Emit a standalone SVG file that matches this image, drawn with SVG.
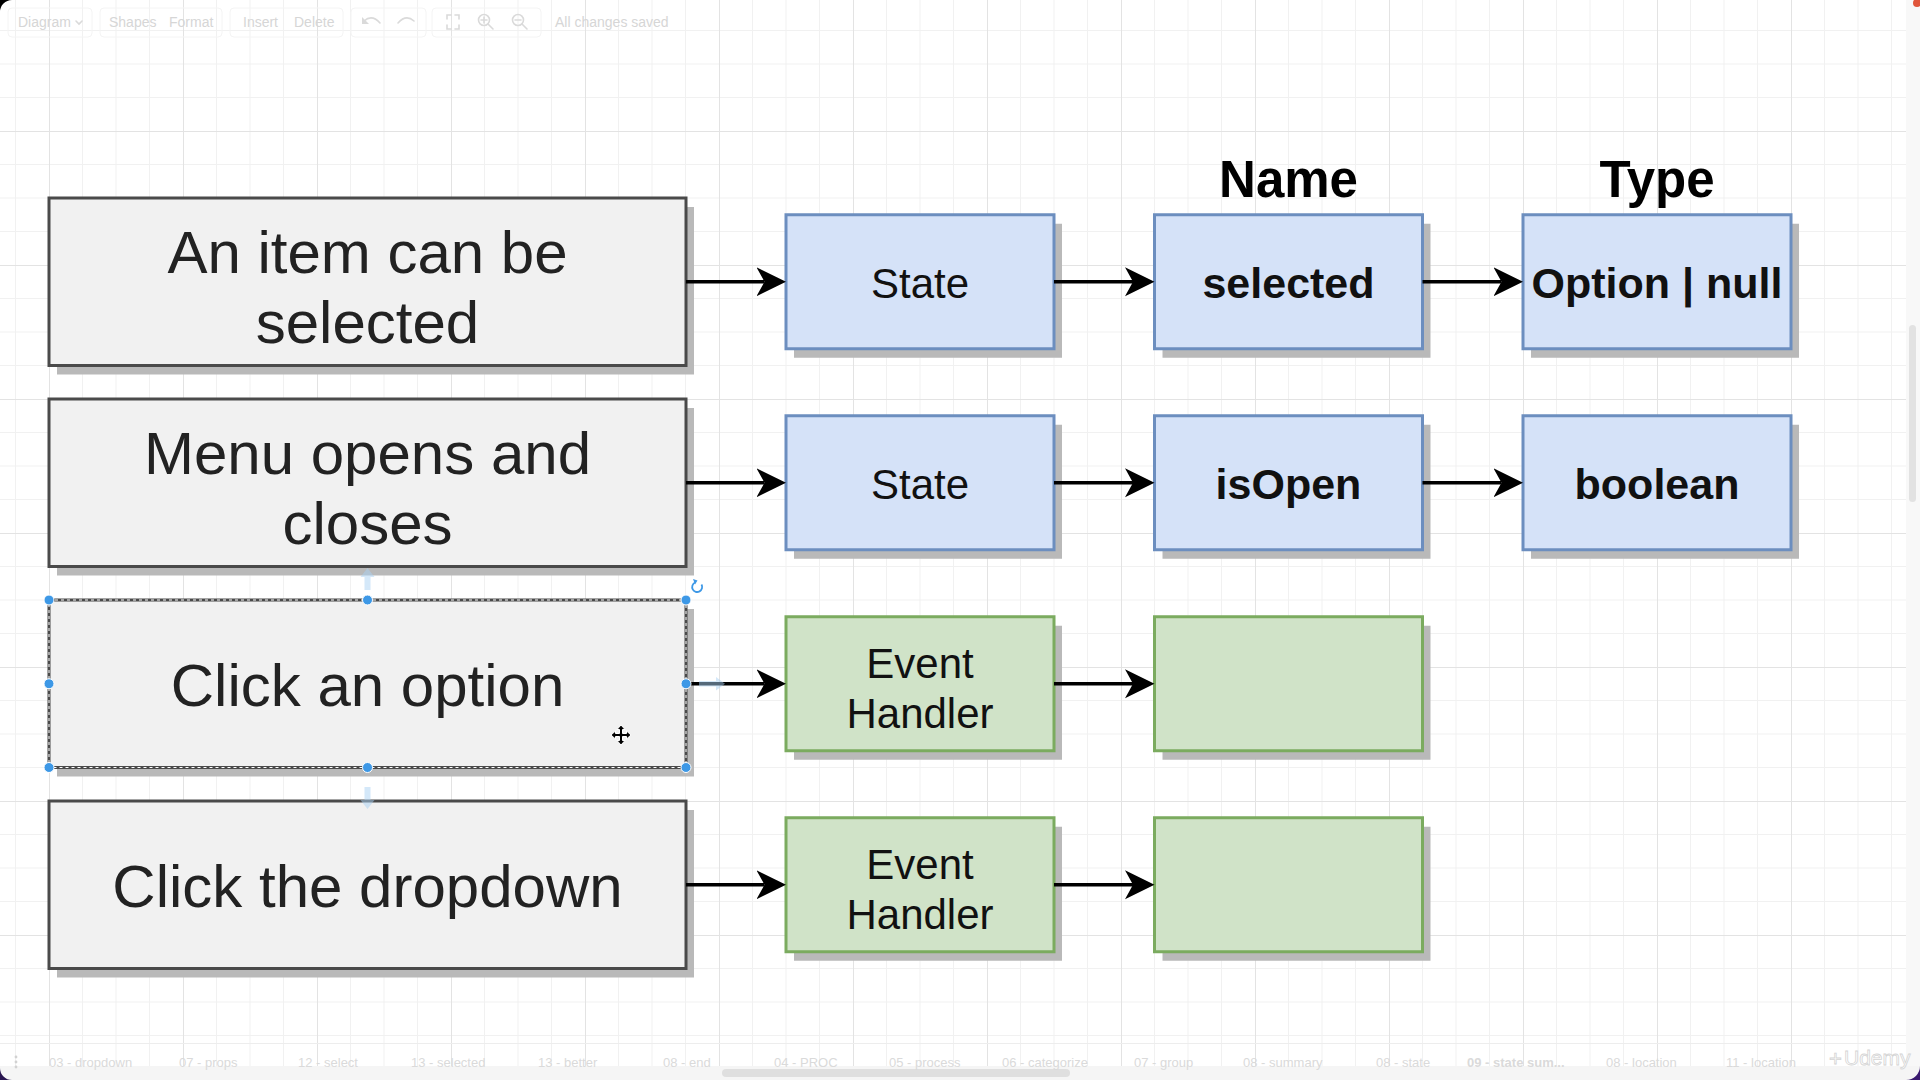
<svg xmlns="http://www.w3.org/2000/svg" width="1920" height="1080" viewBox="0 0 1920 1080">
<defs>
<style>
.shadow{fill:#b9b9b9}
.lbox{fill:#f1f1f1;stroke:#4a4a4a;stroke-width:3}
.blue{fill:#d5e2f8;stroke:#6c8ebf;stroke-width:3}
.green{fill:#d0e3c8;stroke:#7bab5f;stroke-width:3}
.ltxt{font-family:"Liberation Sans",Arial,Helvetica,sans-serif;font-size:60px;fill:#222;text-anchor:middle}
.ntxt{font-family:"Liberation Sans",Arial,Helvetica,sans-serif;font-size:42px;fill:#111;text-anchor:middle}
.bold{font-weight:bold;font-size:43px}
.hdr{font-family:"Liberation Sans",Arial,Helvetica,sans-serif;font-size:51px;font-weight:bold;fill:#000;text-anchor:middle}
.conn{stroke:#000;stroke-width:3.5;fill:none;marker-end:url(#arr)}
.ui{font-family:"Liberation Sans",Arial,Helvetica,sans-serif;font-size:14px;fill:#d6d6d6}
.tab{font-family:"Liberation Sans",Arial,Helvetica,sans-serif;font-size:13px;fill:#dadada}
.uiline{fill:none;stroke:#dadada;stroke-width:1.6;stroke-linecap:round}
.grp{fill:none;stroke:#f4f4f4;stroke-width:1}
.handle{fill:#3d98e6;stroke:#ffffff;stroke-width:1}
.hint{fill:#a9d2f3;opacity:0.5}
</style>
<pattern id="grid" patternUnits="userSpaceOnUse" x="49" y="131" width="134" height="134">
<rect width="134" height="134" fill="#ffffff"/>
<path d="M33.5,0V134M67,0V134M100.5,0V134M0,33.5H134M0,67H134M0,100.5H134" stroke="#f1f1f1" stroke-width="1" fill="none"/>
<path d="M0.5,0V134M0,0.5H134" stroke="#e3e3e3" stroke-width="1" fill="none"/>
</pattern>
<marker id="arr" markerUnits="userSpaceOnUse" markerWidth="30" markerHeight="30" viewBox="0 0 30 30" refX="8" refY="15" orient="auto">
<path d="M0,0.5 L29.5,15 L0,29.5 L8,15 Z" fill="#000"/>
</marker>
</defs>

<!-- background grid -->
<rect x="0" y="0" width="1920" height="1080" fill="url(#grid)"/>

<!-- toolbar -->
<g id="toolbar">
<rect class="grp" x="8" y="8" width="84" height="29" rx="4"/>
<rect class="grp" x="100" y="8" width="122" height="29" rx="4"/>
<rect class="grp" x="230" y="8" width="113" height="29" rx="4"/>
<rect class="grp" x="351" y="8" width="75" height="29" rx="4"/>
<rect class="grp" x="432" y="8" width="109" height="29" rx="4"/>
<text class="ui" x="18" y="27">Diagram</text>
<path class="uiline" d="M76,21 l3,3 l3,-3" stroke-width="1"/>
<text class="ui" x="109" y="27">Shapes</text>
<text class="ui" x="169" y="27">Format</text>
<text class="ui" x="243" y="27">Insert</text>
<text class="ui" x="294" y="27">Delete</text>
<path class="uiline" d="M364,21 q8,-7 16,2" stroke-width="2.2"/>
<path d="M362,17 l0,7 l7,0 z" fill="#dadada"/>
<path class="uiline" d="M398,23 q8,-9 16,-2" stroke="#ececec" stroke-width="2.2"/>
<path class="uiline" d="M447,19v-4h4M455,15h4v4M459,25v4h-4M451,29h-4v-4"/>
<circle class="uiline" cx="484" cy="20" r="5.5"/>
<path class="uiline" d="M488,24l5,5M481,20h6M484,17v6"/>
<circle class="uiline" cx="518" cy="20" r="5.5"/>
<path class="uiline" d="M522,24l5,5M515,20h6"/>
<text class="ui" x="555" y="27">All changes saved</text>
</g>

<!-- right scrollbar -->
<rect x="1906" y="0" width="14" height="1066" fill="#f8f8f8"/>
<rect x="1909" y="325" width="7" height="177" rx="3.5" fill="#e2e2e2"/>

<!-- nodes: left column -->
<g id="node-item-selected">
<rect class="shadow" x="57" y="207" width="637" height="167.5"/>
<rect class="lbox" x="49" y="198" width="637" height="167.5"/>
<text class="ltxt" x="367.5" y="272.5">An item can be</text>
<text class="ltxt" x="367.5" y="342.5">selected</text>
</g>
<g id="node-menu-opens">
<rect class="shadow" x="57" y="408" width="637" height="167.5"/>
<rect class="lbox" x="49" y="399" width="637" height="167.5"/>
<text class="ltxt" x="367.5" y="473.5">Menu opens and</text>
<text class="ltxt" x="367.5" y="543.5">closes</text>
</g>
<g id="node-click-option">
<rect class="shadow" x="57" y="609" width="637" height="167.5"/>
<rect class="lbox" x="49" y="600" width="637" height="167.5"/>
<rect x="49" y="600" width="637" height="167.5" fill="none" stroke="#ffffff" stroke-width="1" stroke-dasharray="3 3"/>
<text class="ltxt" x="367.5" y="705.5">Click an option</text>
</g>
<g id="node-click-dropdown">
<rect class="shadow" x="57" y="810" width="637" height="167.5"/>
<rect class="lbox" x="49" y="801" width="637" height="167.5"/>
<text class="ltxt" x="367.5" y="906.5">Click the dropdown</text>
</g>

<!-- headers -->
<g id="header-name"><text class="hdr" x="1288.5" y="197">Name</text></g>
<g id="header-type"><text class="hdr" x="1657" y="197">Type</text></g>

<!-- row 1 -->
<g id="node-state-1">
<rect class="shadow" x="794" y="223.75" width="268" height="134"/>
<rect class="blue" x="786" y="214.75" width="268" height="134"/>
<text class="ntxt" x="920" y="297.75">State</text>
</g>
<g id="node-selected">
<rect class="shadow" x="1162.5" y="223.75" width="268" height="134"/>
<rect class="blue" x="1154.5" y="214.75" width="268" height="134"/>
<text class="ntxt bold" x="1288.5" y="297.75">selected</text>
</g>
<g id="node-option-null">
<rect class="shadow" x="1531" y="223.75" width="268" height="134"/>
<rect class="blue" x="1523" y="214.75" width="268" height="134"/>
<text class="ntxt bold" x="1657" y="297.75">Option | null</text>
</g>

<!-- row 2 -->
<g id="node-state-2">
<rect class="shadow" x="794" y="424.75" width="268" height="134"/>
<rect class="blue" x="786" y="415.75" width="268" height="134"/>
<text class="ntxt" x="920" y="498.75">State</text>
</g>
<g id="node-isopen">
<rect class="shadow" x="1162.5" y="424.75" width="268" height="134"/>
<rect class="blue" x="1154.5" y="415.75" width="268" height="134"/>
<text class="ntxt bold" x="1288.5" y="498.75">isOpen</text>
</g>
<g id="node-boolean">
<rect class="shadow" x="1531" y="424.75" width="268" height="134"/>
<rect class="blue" x="1523" y="415.75" width="268" height="134"/>
<text class="ntxt bold" x="1657" y="498.75">boolean</text>
</g>

<!-- row 3 -->
<g id="node-event-handler-1">
<rect class="shadow" x="794" y="625.75" width="268" height="134"/>
<rect class="green" x="786" y="616.75" width="268" height="134"/>
<text class="ntxt" x="920" y="677.5">Event</text>
<text class="ntxt" x="920" y="727.5">Handler</text>
</g>
<g id="node-empty-1">
<rect class="shadow" x="1162.5" y="625.75" width="268" height="134"/>
<rect class="green" x="1154.5" y="616.75" width="268" height="134"/>
</g>

<!-- row 4 -->
<g id="node-event-handler-2">
<rect class="shadow" x="794" y="826.75" width="268" height="134"/>
<rect class="green" x="786" y="817.75" width="268" height="134"/>
<text class="ntxt" x="920" y="878.5">Event</text>
<text class="ntxt" x="920" y="928.5">Handler</text>
</g>
<g id="node-empty-2">
<rect class="shadow" x="1162.5" y="826.75" width="268" height="134"/>
<rect class="green" x="1154.5" y="817.75" width="268" height="134"/>
</g>

<!-- connectors -->
<g id="connectors">
<path class="conn" d="M686,281.75H764.5"/>
<path class="conn" d="M1054,281.75H1133"/>
<path class="conn" d="M1422.5,281.75H1501.5"/>
<path class="conn" d="M686,482.75H764.5"/>
<path class="conn" d="M1054,482.75H1133"/>
<path class="conn" d="M1422.5,482.75H1501.5"/>
<path class="conn" d="M686,683.75H764.5"/>
<path class="conn" d="M1054,683.75H1133"/>
<path class="conn" d="M686,884.75H764.5"/>
<path class="conn" d="M1054,884.75H1133"/>
</g>

<!-- selection decorations on "Click an option" -->
<g id="selection">
<path class="hint" d="M364.5,590 v-13 h-4 l7,-9 l7,9 h-4 v13 z"/>
<path class="hint" d="M364.5,787 v13 h-4 l7,9 l7,-9 h-4 v-13 z"/>
<path class="hint" d="M699,681 h17 v-4 l9,6.75 l-9,6.75 v-4 h-17 z"/>
<circle class="handle" cx="49" cy="600" r="5"/>
<circle class="handle" cx="367.5" cy="600" r="5"/>
<circle class="handle" cx="686" cy="600" r="5"/>
<circle class="handle" cx="49" cy="683.75" r="5"/>
<circle class="handle" cx="686" cy="683.75" r="5"/>
<circle class="handle" cx="49" cy="767.5" r="5"/>
<circle class="handle" cx="367.5" cy="767.5" r="5"/>
<circle class="handle" cx="686" cy="767.5" r="5"/>
<path d="M701.5,584.5 A5,5 0 1 1 695,582.5" fill="none" stroke="#3d98e6" stroke-width="1.8"/>
<path d="M693,579 l4.5,1.5 l-2.5,4 z" fill="#3d98e6"/>
<path d="M621,725 l4,4.5 h-2.5 v4 h4 v-2.5 l4.5,4 l-4.5,4 v-2.5 h-4 v4 h2.5 l-4,4.5 l-4,-4.5 h2.5 v-4 h-4 v2.5 l-4.5,-4 l4.5,-4 v2.5 h4 v-4 h-2.5 z" fill="#000" stroke="#ffffff" stroke-width="1"/>
</g>

<!-- bottom tab bar -->
<g id="tabbar">
<line x1="0" y1="1043.5" x2="1906" y2="1043.5" stroke="#ededed" stroke-width="1"/>
<rect x="0" y="1066" width="1920" height="14" fill="#f5f5f5"/>
<rect x="722" y="1069" width="348" height="8" rx="4" fill="#dfdfdf"/>
<circle cx="16" cy="1057" r="1.4" fill="#d2d2d2"/>
<circle cx="16" cy="1062" r="1.4" fill="#d2d2d2"/>
<circle cx="16" cy="1067" r="1.4" fill="#d2d2d2"/>
<text class="tab" x="49" y="1067">03 - dropdown</text>
<text class="tab" x="179" y="1067">07 - props</text>
<text class="tab" x="298" y="1067">12 - select</text>
<text class="tab" x="411" y="1067">13 - selected</text>
<text class="tab" x="538" y="1067">13 - better</text>
<text class="tab" x="663" y="1067">08 - end</text>
<text class="tab" x="774" y="1067">04 - PROC</text>
<text class="tab" x="889" y="1067">05 - process</text>
<text class="tab" x="1002" y="1067">06 - categorize</text>
<text class="tab" x="1134" y="1067">07 - group</text>
<text class="tab" x="1243" y="1067">08 - summary</text>
<text class="tab" x="1376" y="1067">08 - state</text>
<text class="tab" x="1467" y="1067" font-weight="bold" fill="#c9c9c9">09 - state sum...</text>
<text class="tab" x="1606" y="1067">08 - location</text>
<text class="tab" x="1726" y="1067">11 - location</text>
<text x="1829" y="1066" font-family="Liberation Sans, Arial, sans-serif" font-size="22" fill="#ffffff" stroke="#d4d4d4" stroke-width="0.8">+</text>
<text x="1844" y="1065" font-family="Liberation Sans, Arial, sans-serif" font-size="21" fill="#ffffff" stroke="#d4d4d4" stroke-width="0.8">Udemy</text>
</g>

<!-- screen corners -->
<path d="M0,0 H12 A12,12 0 0 0 0,12 Z" fill="#000"/>
<path d="M0,1080 V1068 A12,12 0 0 0 12,1080 Z" fill="#2a1650"/>
<path d="M1920,1080 V1066 A14,14 0 0 1 1906,1080 Z" fill="#3a1a70"/>
<circle cx="1917" cy="3" r="4" fill="#e0553b"/>
</svg>
